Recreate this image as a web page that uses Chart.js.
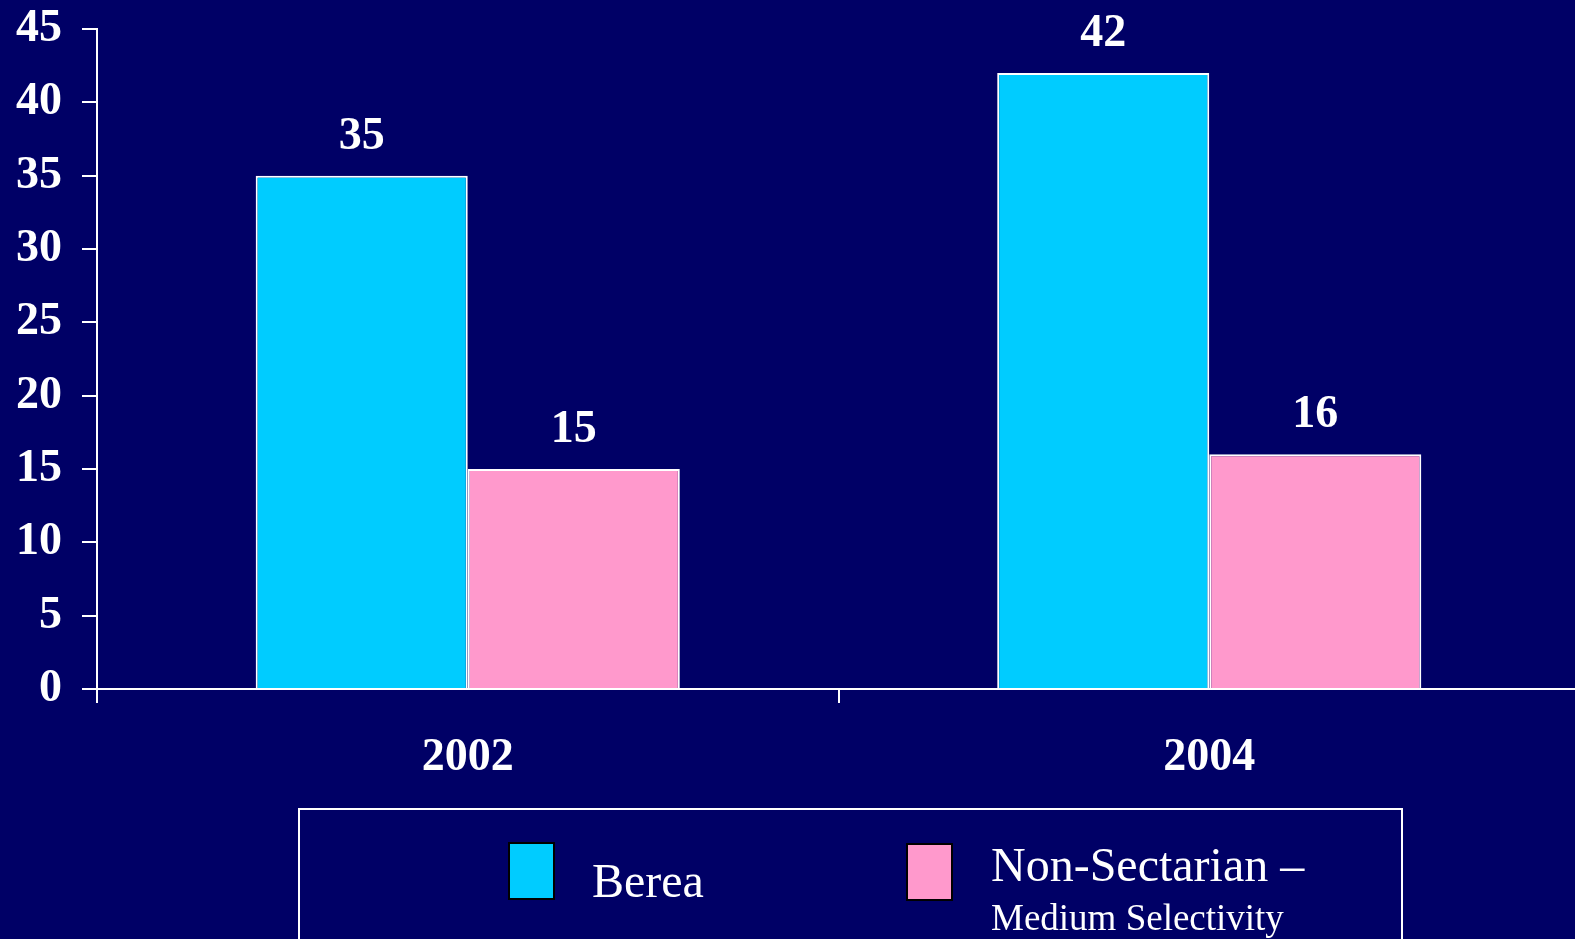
<!DOCTYPE html>
<html>
<head>
<meta charset="utf-8">
<script src="https://cdn.jsdelivr.net/npm/chart.js@4"></script>
<style>
  html, body { margin: 0; padding: 0; background: #000066; overflow: hidden; }
  #wrap { position: relative; width: 1575px; height: 939px; overflow: hidden; }
  #chart { position: absolute; left: 0; top: 0; }
  #legend {
    position: absolute; left: 298px; top: 808px; width: 1101px; height: 200px;
    border: 2px solid #ffffff; font-family: "Liberation Serif", "Times New Roman", serif; color: #fff;
  }
  .swatch { position: absolute; width: 43px; height: 54px; border: 2px solid #000; }
  .lbl { position: absolute; white-space: nowrap; line-height: 1; }
</style>
</head>
<body>
<div id="wrap">
  <canvas id="chart"></canvas>
  <div id="legend"></div>
</div>
<script>
const years = ["2002", "2004"];
const bereaValues = [35, 42];
const nonSectarianValues = [15, 16];
const yTicks = [0, 5, 10, 15, 20, 25, 30, 35, 40, 45];
const seriesNames = ["Berea", "Non-Sectarian –"];
const seriesSubNames = ["", "Medium Selectivity"];
const seriesColors = ["#00CCFF", "#FF99CC"];

const serif = "'Liberation Serif', 'Times New Roman', serif";

// value labels above the bars
const valueLabels = {
    id: "valueLabels",
    afterDatasetsDraw(chart) {
        const ctx = chart.ctx;
        ctx.save();
        ctx.font = "bold 46px " + serif;
        ctx.fillStyle = "#ffffff";
        ctx.textAlign = "center";
        ctx.textBaseline = "alphabetic";
        chart.data.datasets.forEach((ds, i) => {
            chart.getDatasetMeta(i).data.forEach((bar, j) => {
                ctx.fillText(String(ds.data[j]), bar.x, bar.y - 27);
            });
        });
        ctx.restore();
    }
};

const canvas = document.getElementById("chart");
canvas.width = 1580;
canvas.height = 939;

new Chart(canvas.getContext("2d"), {
    type: "bar",
    data: {
        labels: years,
        datasets: [
            { label: seriesNames[0], data: bereaValues, backgroundColor: seriesColors[0], borderColor: "#ffffff", borderWidth: 2 },
            { label: seriesNames[1], data: nonSectarianValues, backgroundColor: seriesColors[1], borderColor: "#ffffff", borderWidth: 2 }
        ]
    },
    options: {
        responsive: false,
        animation: false,
        layout: { padding: { top: 29, left: 0, right: 0, bottom: 0 } },
        datasets: { bar: { categoryPercentage: 0.572, barPercentage: 1 } },
        scales: {
            x: {
                z: 1,
                grid: { offset: true, drawOnChartArea: false, color: "#ffffff", tickLength: 14, lineWidth: 2 },
                border: { color: "#ffffff", width: 2 },
                ticks: { color: "#ffffff", font: { family: serif, size: 46, weight: "bold" }, padding: 28, maxRotation: 0 },
                afterFit(scale) { scale.height = 250; }
            },
            y: {
                min: 0,
                max: 45,
                afterBuildTicks(scale) { scale.ticks = yTicks.map(v => ({ value: v })); },
                grid: { drawOnChartArea: false, color: "#ffffff", tickLength: 15, lineWidth: 2 },
                border: { color: "#ffffff", width: 2 },
                ticks: { color: "#ffffff", font: { family: serif, size: 46, weight: "bold", lineHeight: 0.3 }, padding: 20 },
                afterFit(scale) { scale.width = 97; }
            }
        },
        plugins: { legend: { display: false }, tooltip: { enabled: false } }
    },
    plugins: [valueLabels]
});

// legend box
const legend = document.getElementById("legend");
const legendPos = [
    { sx: 208, sy: 32, tx: 292, ty: 47, sub: 0 },
    { sx: 606, sy: 33, tx: 691, ty: 31, sub: 89 }
];
seriesNames.forEach((name, i) => {
    const p = legendPos[i];
    const sw = document.createElement("div");
    sw.className = "swatch";
    sw.style.left = p.sx + "px";
    sw.style.top = p.sy + "px";
    sw.style.background = seriesColors[i];
    legend.appendChild(sw);
    const t = document.createElement("div");
    t.className = "lbl";
    t.style.left = p.tx + "px";
    t.style.top = p.ty + "px";
    t.style.fontSize = "48px";
    t.textContent = name;
    legend.appendChild(t);
    if (seriesSubNames[i]) {
        const s = document.createElement("div");
        s.className = "lbl";
        s.style.left = p.tx + "px";
        s.style.top = p.sub + "px";
        s.style.fontSize = "37px";
        s.textContent = seriesSubNames[i];
        legend.appendChild(s);
    }
});
</script>
</body>
</html>
